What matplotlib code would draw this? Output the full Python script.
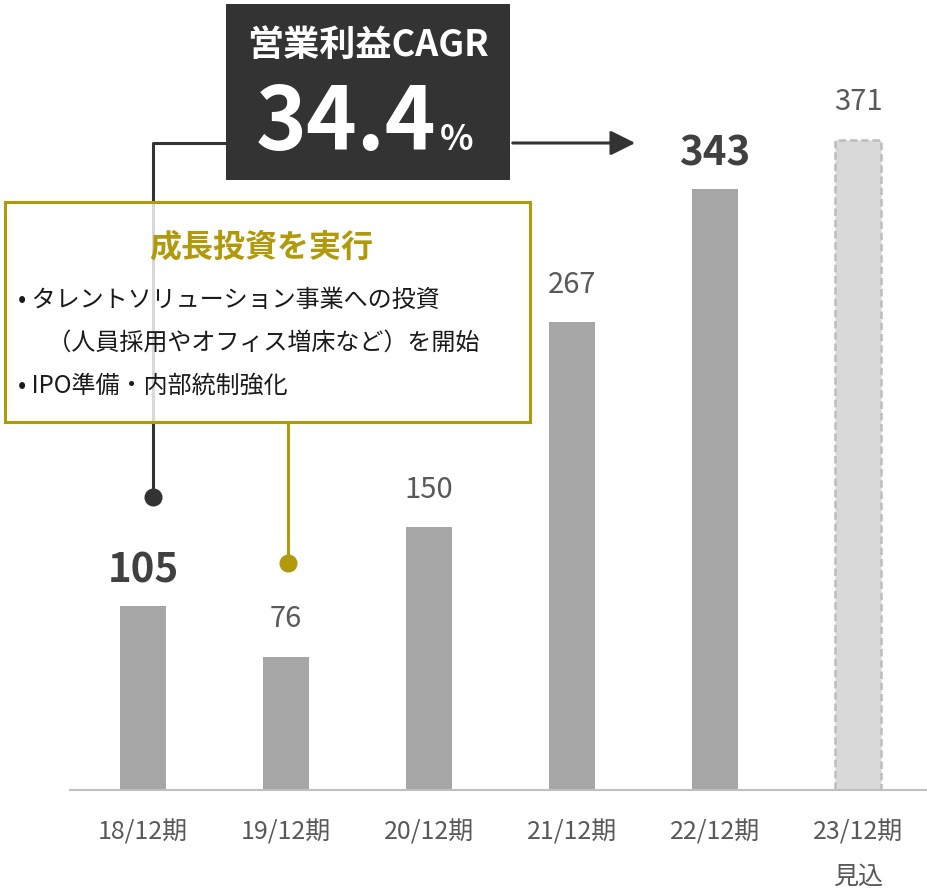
import matplotlib.pyplot as plt
from matplotlib.patches import Rectangle, FancyArrowPatch
from matplotlib.lines import Line2D

plt.rcParams['font.family'] = ['Noto Sans CJK JP', 'DejaVu Sans']

periods = ['18/12期', '19/12期', '20/12期', '21/12期', '22/12期', '23/12期\n見込']
profit = [105, 76, 150, 267, 343, 371]
bold_labels = [True, False, False, False, True, False]
forecast = [False, False, False, False, False, True]

cagr_title = '営業利益CAGR'
cagr_value = '34.4'
box_title = '成長投資を実行'
box_lines = ['• タレントソリューション事業への投資',
             '\u3000 （人員採用やオフィス増床など）を開始',
             '• IPO準備・内部統制強化']

W, H = 927, 890
DARK = '#333333'
GOLD = '#B09A0C'

fig = plt.figure(figsize=(W / 100, H / 100), dpi=100)


def px(x, y):
    # pixel position (from top-left) -> figure fraction
    return x / W, 1 - y / H


ax = fig.add_axes([70 / W, 100 / H, 857 / W, 736 / H])
ax.set_xlim(-0.5105, 5.4825)
ax.set_ylim(0, 420)

for i, v in enumerate(profit):
    if forecast[i]:
        ax.bar(i, v, width=0.315, color='#D9D9D9', edgecolor='#BDBDBD',
               linestyle=(0, (3, 1.5)), linewidth=1.8)
    else:
        ax.bar(i, v, width=0.315, color='#A6A6A6')
    if bold_labels[i]:
        ax.annotate(str(v), (i, v), xytext=(0, 25), textcoords='offset points',
                    ha='center', va='center', fontsize=29, fontweight='bold',
                    color='#404040')
    else:
        ax.annotate(str(v), (i, v), xytext=(0, 27), textcoords='offset points',
                    ha='center', va='center', fontsize=21, color='#595959')

ax.set_xticks(range(len(periods)))
ax.set_xticklabels(periods, fontsize=18, color='#595959', linespacing=1.95)
ax.tick_params(axis='x', length=0, pad=21)
ax.set_yticks([])
for s in ['top', 'left', 'right']:
    ax.spines[s].set_visible(False)
ax.spines['bottom'].set_color('#BFBFBF')
ax.spines['bottom'].set_linewidth(1.5)

# dark connector + arrow
fig.add_artist(Line2D([px(153, 497)[0], px(153, 143)[0], px(226, 143)[0]],
                      [px(153, 497)[1], px(153, 143)[1], px(226, 143)[1]],
                      transform=fig.transFigure, color=DARK, lw=2.2, zorder=3))
fig.add_artist(Line2D([px(153, 497)[0]], [px(153, 497)[1]], marker='o', ms=12,
                      color=DARK, transform=fig.transFigure, zorder=3))
fig.add_artist(FancyArrowPatch(px(510, 143), px(638, 143), transform=fig.transFigure,
                               arrowstyle='-|>,head_length=10,head_width=5',
                               color=DARK, lw=2.2, mutation_scale=1.5, zorder=3))

# CAGR box
x0, y0 = px(226, 180)
x1, y1 = px(510, 4)
fig.add_artist(Rectangle((x0, y0), x1 - x0, y1 - y0, transform=fig.transFigure,
                         facecolor=DARK, edgecolor='none', zorder=4))
fig.text(*px(368, 45), cagr_title, ha='center', va='center', fontsize=26,
         fontweight='bold', color='white', zorder=5)
fig.text(*px(436, 150), cagr_value, ha='right', va='baseline', fontsize=62,
         fontweight='bold', color='white', zorder=5)
fig.text(*px(440, 150), '%', ha='left', va='baseline', fontsize=25,
         fontweight='bold', color='white', zorder=5)

# gold connector
fig.add_artist(Line2D([px(288, 422)[0], px(288, 563)[0]],
                      [px(288, 422)[1], px(288, 563)[1]],
                      transform=fig.transFigure, color=GOLD, lw=2.2, zorder=3))
fig.add_artist(Line2D([px(288, 563)[0]], [px(288, 563)[1]], marker='o', ms=12,
                      color=GOLD, transform=fig.transFigure, zorder=3))

# growth investment box
x0, y0 = px(5, 422)
x1, y1 = px(530, 202)
fig.add_artist(Rectangle((x0, y0), x1 - x0, y1 - y0, transform=fig.transFigure,
                         facecolor=(1, 1, 1, 0.82), edgecolor=GOLD, lw=2.2, zorder=4))
fig.text(*px(261, 247), box_title, ha='center', va='center', fontsize=23,
         fontweight='bold', color=GOLD, zorder=5)
for k, line in enumerate(box_lines):
    fig.text(*px(18, 300 + 43 * k), line, ha='left', va='center', fontsize=17.3,
             color='#1A1A1A', zorder=5)

fig.savefig('out.png', dpi=100)
